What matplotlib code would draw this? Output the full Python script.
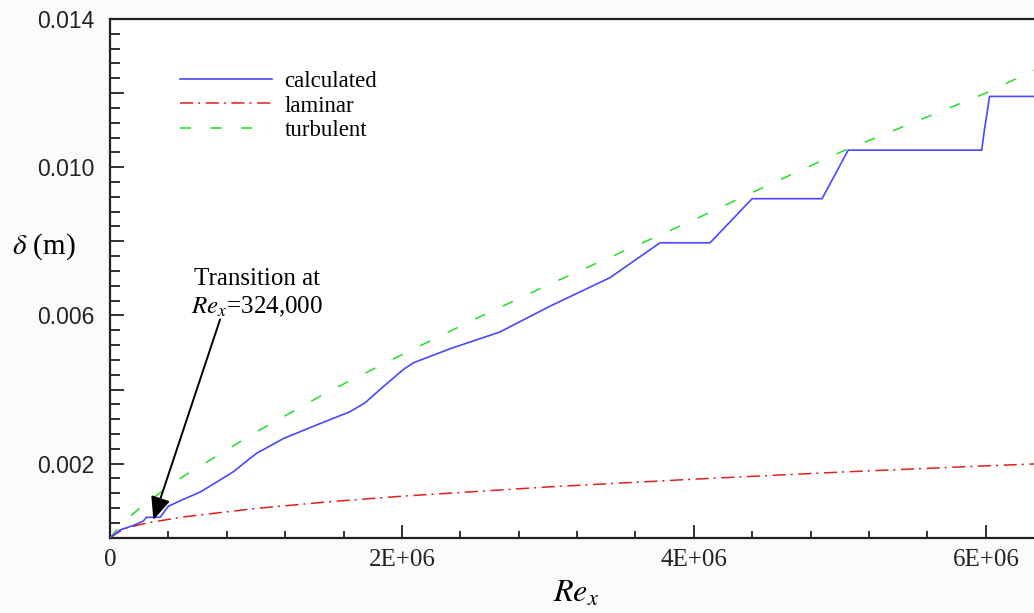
import matplotlib
matplotlib.use("Agg")
import matplotlib.pyplot as plt
from matplotlib.ticker import FixedLocator, MultipleLocator, FuncFormatter

# ---- data (Re_x in units of 1E6, delta in m) ----
calc_re = [0, 0.07, 0.16, 0.228, 0.25, 0.343, 0.40, 0.5, 0.617, 0.73, 0.845, 0.93,
           1.005, 1.19, 1.42, 1.644, 1.747, 1.873, 2.01, 2.078, 2.33, 2.67, 3.015,
           3.426, 3.768, 4.111, 4.399, 4.878, 5.057, 5.972, 5.99, 6.01, 6.025, 6.33]
calc_d = [0, 0.00021, 0.00033, 0.00045, 0.00055, 0.00055, 0.00085, 0.00103, 0.00123,
          0.0015, 0.00178, 0.00205, 0.00228, 0.00268, 0.00305, 0.00340, 0.00364,
          0.00408, 0.00454, 0.00472, 0.0051, 0.00555, 0.00625, 0.00702, 0.00796,
          0.00796, 0.00915, 0.00915, 0.01046, 0.01046, 0.0110, 0.0115, 0.01191, 0.01191]

lam_re = [0, 0.1, 0.25, 0.5, 1.0, 1.5, 2.0, 3.0, 4.0, 5.0, 6.0, 6.33]
lam_d = [0, 0.00025, 0.000395, 0.00056, 0.00079, 0.00097, 0.00112, 0.00137,
         0.00158, 0.00177, 0.00194, 0.00199]

turb_re = [0, 0.1, 0.25, 0.5, 1.0, 1.5, 2.0, 2.5, 3.0, 3.5, 4.0, 4.5, 5.0, 5.5, 6.0, 6.33]
turb_d = [0, 0.00045, 0.00095, 0.00165, 0.00285, 0.00395, 0.00494, 0.0059, 0.00682,
          0.0077, 0.00858, 0.0095, 0.0104, 0.0112, 0.0120, 0.01262]

x_tick_vals = [0, 2e6, 4e6, 6e6]
x_tick_labels = ["0", "2E+06", "4E+06", "6E+06"]
y_labeled = [0.002, 0.006, 0.010, 0.014]

legend_labels = ["calculated", "laminar", "turbulent"]
annot_line1 = "Transition at"
annot_line2 = r"$\mathit{Re}_x$=324,000"
transition_re = 0.297e6
transition_d = 0.00048

plt.rcParams["mathtext.fontset"] = "stix"
plt.rcParams["lines.scale_dashes"] = False

W, H = 1034, 613
fig = plt.figure(figsize=(W / 100, H / 100), dpi=100, facecolor="#fbfbfb")
ax = fig.add_axes([110 / W, 1 - 537.7 / H, 1 - 110 / W, (537.7 - 19) / H])
ax.set_facecolor("white")

E6 = 1e6
l_lam, = ax.plot([v * E6 for v in lam_re], lam_d, color="#e02020", lw=1.1,
                 dashes=(9.5, 3.5, 1.5, 4), label=legend_labels[1], zorder=2)
l_turb, = ax.plot([v * E6 for v in turb_re], turb_d, color="#22dd22", lw=1.1,
                  dashes=(8, 14), label=legend_labels[2], zorder=2)
l_calc, = ax.plot([v * E6 for v in calc_re], calc_d, color="#4848ff", lw=1.2,
                  label=legend_labels[0], zorder=3)

ax.set_xlim(0, 6.33e6)
ax.set_ylim(0, 0.014)

for s in ["left", "bottom", "top"]:
    ax.spines[s].set_linewidth(1.6)
    ax.spines[s].set_color("#222222")
ax.spines["right"].set_visible(False)

ax.xaxis.set_major_locator(FixedLocator(x_tick_vals))
ax.xaxis.set_minor_locator(MultipleLocator(0.4e6))
ax.xaxis.set_major_formatter(FuncFormatter(
    lambda v, p: x_tick_labels[x_tick_vals.index(v)] if v in x_tick_vals else ""))

ax.yaxis.set_major_locator(MultipleLocator(0.002))
ax.yaxis.set_minor_locator(MultipleLocator(0.0004))
ax.yaxis.set_major_formatter(FuncFormatter(
    lambda v, p: ("%.3f" % v) if any(abs(v - t) < 1e-9 for t in y_labeled) else ""))

ax.tick_params(axis="x", which="major", direction="in", length=9.5, width=1.3,
               pad=8, colors="#222222")
ax.tick_params(axis="x", which="minor", direction="in", length=5, width=1.3,
               colors="#222222")
ax.tick_params(axis="y", which="major", direction="in", length=10, width=1.3,
               pad=11, colors="#222222")
ax.tick_params(axis="y", which="minor", direction="in", length=7.5, width=1.3,
               colors="#222222")
ax.tick_params(top=False, right=False, which="both")
for lab in ax.get_yticklabels():
    lab.set_fontfamily("Liberation Sans")
    lab.set_fontsize(16.5)
    lab.set_color("#222222")
for lab in ax.get_xticklabels():
    lab.set_fontfamily("Liberation Serif")
    lab.set_fontsize(18)
    lab.set_color("#222222")

# axis labels
fig.text(44 / W, 1 - 247 / H, r"$\delta$ (m)", ha="center", va="center",
         fontsize=21, family="Liberation Serif")
fig.text(576 / W, 1 - 594 / H, r"$\mathit{Re}_x$", ha="center", va="center",
         fontsize=23, family="Liberation Serif")

# legend
leg = ax.legend(handles=[l_calc, l_lam, l_turb], labels=legend_labels,
                loc="upper left", bbox_to_anchor=(180 / W, 1 - 71 / H),
                bbox_transform=fig.transFigure, frameon=False, borderpad=0,
                borderaxespad=0, handlelength=4.0, handletextpad=0.55,
                labelspacing=0.15, prop={"family": "Liberation Serif", "size": 16.5})

# annotation
ax.text(1.007e6, 0.00698, annot_line1, ha="center", va="center",
        fontsize=18, family="Liberation Serif")
ax.text(1.01e6, 0.00622, annot_line2, ha="center", va="center",
        fontsize=18, family="Liberation Serif")
ax.annotate("", xy=(transition_re, transition_d), xytext=(0.754e6, 0.00589),
            arrowprops=dict(arrowstyle="-|>,head_length=0.7,head_width=0.3",
                            mutation_scale=20, lw=1.4, color="black",
                            shrinkA=0, shrinkB=0))

fig.savefig("out.png", dpi=100, facecolor=fig.get_facecolor())
